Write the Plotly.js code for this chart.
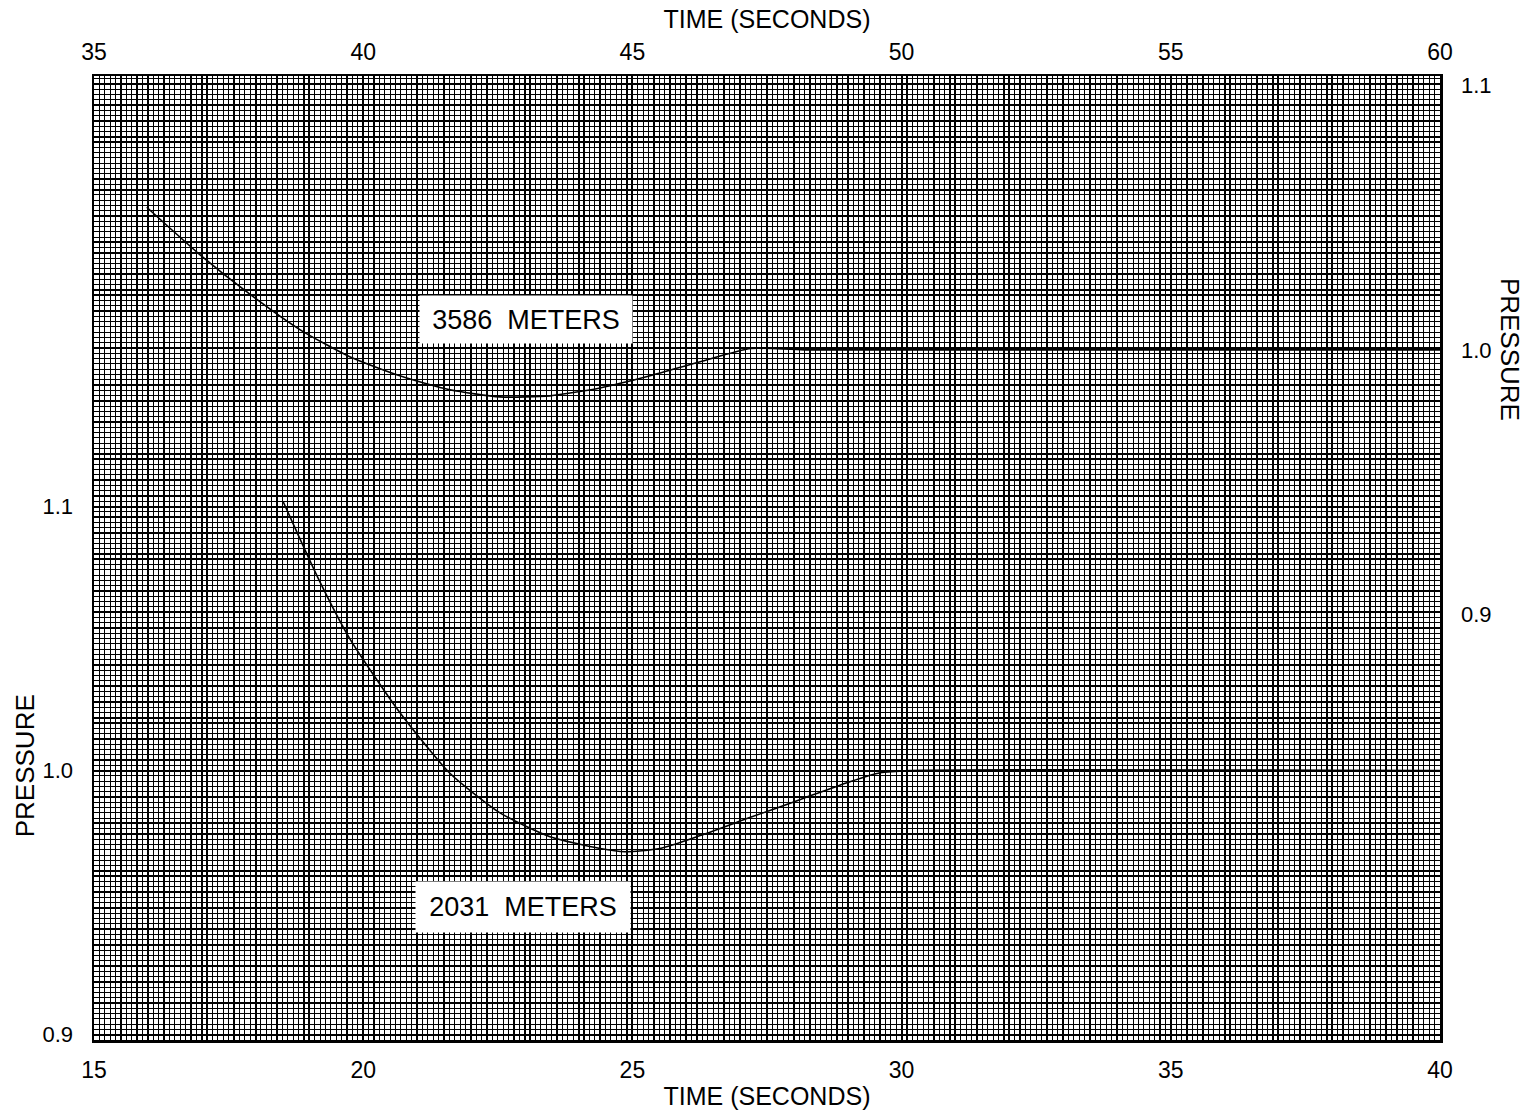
<!DOCTYPE html>
<html>
<head>
<meta charset="utf-8">
<script src="https://cdn.plot.ly/plotly-3.0.1.min.js"></script>
<style>html,body{margin:0;padding:0;background:#fff;}#chart{width:1534px;height:1119px;}</style>
</head>
<body>
<div id="chart"></div>
<script>
// ---- data ----
// 2031 m record: bottom time axis (15-40 s), left pressure axis
const time2031 = [18.51, 19.16, 19.75, 20.68, 21.61, 22.54, 23.47, 24.40, 24.86, 25.51, 26.26, 27.18, 28.11, 29.04, 29.60, 30.16, 40.0];
const pressure2031 = [1.102, 1.073, 1.050, 1.022, 0.999, 0.984, 0.975, 0.9705, 0.9693, 0.9705, 0.9754, 0.9822, 0.9890, 0.9958, 0.9992, 1.000, 1.000];
// 3586 m record: top time axis (35-60 s), right pressure axis
const time3586 = [35.98, 36.97, 37.90, 38.83, 39.75, 40.68, 41.61, 42.54, 43.47, 44.40, 45.33, 46.26, 47.20, 48.2, 60.0];
const pressure3586 = [1.054, 1.036, 1.021, 1.0076, 0.9974, 0.9902, 0.9849, 0.9822, 0.9826, 0.9856, 0.9902, 0.9955, 1.0005, 1.000, 1.000];

const bottomTimeTicks = [15, 20, 25, 30, 35, 40];
const bottomTimeLabels = ['15', '20', '25', '30', '35', '40'];
const topTimeTicks = [35, 40, 45, 50, 55, 60];
const topTimeLabels = ['35', '40', '45', '50', '55', '60'];
const leftPressureTicks = [0.9, 1.0, 1.1];
const leftPressureLabels = ['0.9', '1.0', '1.1'];
const rightPressureTicks = [0.9, 1.0, 1.1];
const rightPressureLabels = ['0.9', '1.0', '1.1'];
const curveLabels = ['3586  METERS', '2031  METERS'];
const axisTitles = {time: 'TIME (SECONDS)', pressure: 'PRESSURE'};

// ---- grid-paper tick tables built from the label arrays ----
function buildTicks(lo, hi, step, ticks, labels) {
  const vals = [], text = [];
  const n = Math.round((hi - lo) / step);
  for (let i = 0; i <= n; i++) {
    const v = +(lo + i * step).toFixed(4);
    vals.push(v);
    const k = ticks.findIndex(t => Math.abs(t - v) < 1e-6);
    text.push(k >= 0 ? labels[k] : '');
  }
  return {vals, text};
}
const xGrid = buildTicks(15, 40, 1, bottomTimeTicks, bottomTimeLabels);
const yGrid = buildTicks(0.9, 1.26, 0.02, leftPressureTicks, leftPressureLabels);

const FONT = 'Liberation Sans, Arial, sans-serif';

const traces = [
  {x: time2031, y: pressure2031, xaxis: 'x', yaxis: 'y', mode: 'lines', name: '2031 METERS',
   line: {color: '#000', width: 1.6, shape: 'spline', smoothing: 0.6}, hoverinfo: 'x+y'},
  {x: time3586, y: pressure3586, xaxis: 'x2', yaxis: 'y2', mode: 'lines', name: '3586 METERS',
   line: {color: '#000', width: 1.6, shape: 'spline', smoothing: 0.6}, hoverinfo: 'x+y'}
];

const layout = {
  width: 1534, height: 1119,
  margin: {l: 94, r: 94, t: 76, b: 79, pad: 0},
  paper_bgcolor: '#fff', plot_bgcolor: '#fff',
  showlegend: false,
  font: {family: FONT, color: '#000', size: 22},
  xaxis: {
    range: [15, 40], tickmode: 'array', tickvals: xGrid.vals, ticktext: xGrid.text,
    ticks: '', showgrid: true, gridcolor: '#000', gridwidth: 2, zeroline: false,
    minor: {tickmode: 'linear', tick0: 15, dtick: 0.1, showgrid: true, gridcolor: '#000', gridwidth: 1.2, ticks: ''},
    showline: true, linecolor: '#000', linewidth: 2.5,
    tickfont: {size: 23, family: FONT}, ticklabelstandoff: 8,
    title: {text: axisTitles.time, font: {size: 25, family: FONT}, standoff: 6},
    fixedrange: true
  },
  xaxis2: {
    overlaying: 'x', side: 'top', anchor: 'y', range: [35, 60],
    tickmode: 'array', tickvals: topTimeTicks, ticktext: topTimeLabels,
    ticks: '', showgrid: false, zeroline: false,
    showline: true, linecolor: '#000', linewidth: 2.5,
    tickfont: {size: 23, family: FONT}, ticklabelstandoff: 4,
    title: {text: axisTitles.time, font: {size: 25, family: FONT}, standoff: 4},
    fixedrange: true
  },
  yaxis: {
    range: [0.898, 1.263], tickmode: 'array', tickvals: yGrid.vals, ticktext: yGrid.text,
    ticks: '', showgrid: true, gridcolor: '#000', gridwidth: 2, zeroline: false,
    minor: {tickmode: 'linear', tick0: 0.9, dtick: 0.002, showgrid: true, gridcolor: '#000', gridwidth: 1.2, ticks: ''},
    showline: true, linecolor: '#000', linewidth: 2.5,
    tickfont: {size: 22, family: FONT}, ticklabelstandoff: 14,
    fixedrange: true
  },
  yaxis2: {
    overlaying: 'y', side: 'right', anchor: 'x', range: [0.7387, 1.1037],
    tickmode: 'array', tickvals: rightPressureTicks, ticktext: rightPressureLabels,
    ticks: '', showgrid: false, zeroline: false,
    showline: true, linecolor: '#000', linewidth: 2.5,
    tickfont: {size: 22, family: FONT}, ticklabelstandoff: 14,
    fixedrange: true
  },
  annotations: [
    {text: axisTitles.pressure, xref: 'paper', yref: 'y', x: -0.0513, y: 1.002, textangle: -90,
     showarrow: false, xanchor: 'center', yanchor: 'middle', font: {size: 26, family: FONT}},
    {text: axisTitles.pressure, xref: 'paper', yref: 'y2', x: 1.052, y: 1.0, textangle: 90,
     showarrow: false, xanchor: 'center', yanchor: 'middle', font: {size: 26, family: FONT}},
    {text: curveLabels[0], xref: 'paper', yref: 'paper', x: 0.321, y: 0.747,
     showarrow: false, xanchor: 'center', yanchor: 'middle', bgcolor: '#fff',
     width: 196, height: 31, borderpad: 8, font: {size: 27, family: FONT}},
    {text: curveLabels[1], xref: 'paper', yref: 'paper', x: 0.3187, y: 0.138,
     showarrow: false, xanchor: 'center', yanchor: 'middle', bgcolor: '#fff',
     width: 198, height: 34, borderpad: 8, font: {size: 27, family: FONT}}
  ]
};

Plotly.newPlot('chart', traces, layout, {staticPlot: true, displayModeBar: false});
</script>
</body>
</html>
